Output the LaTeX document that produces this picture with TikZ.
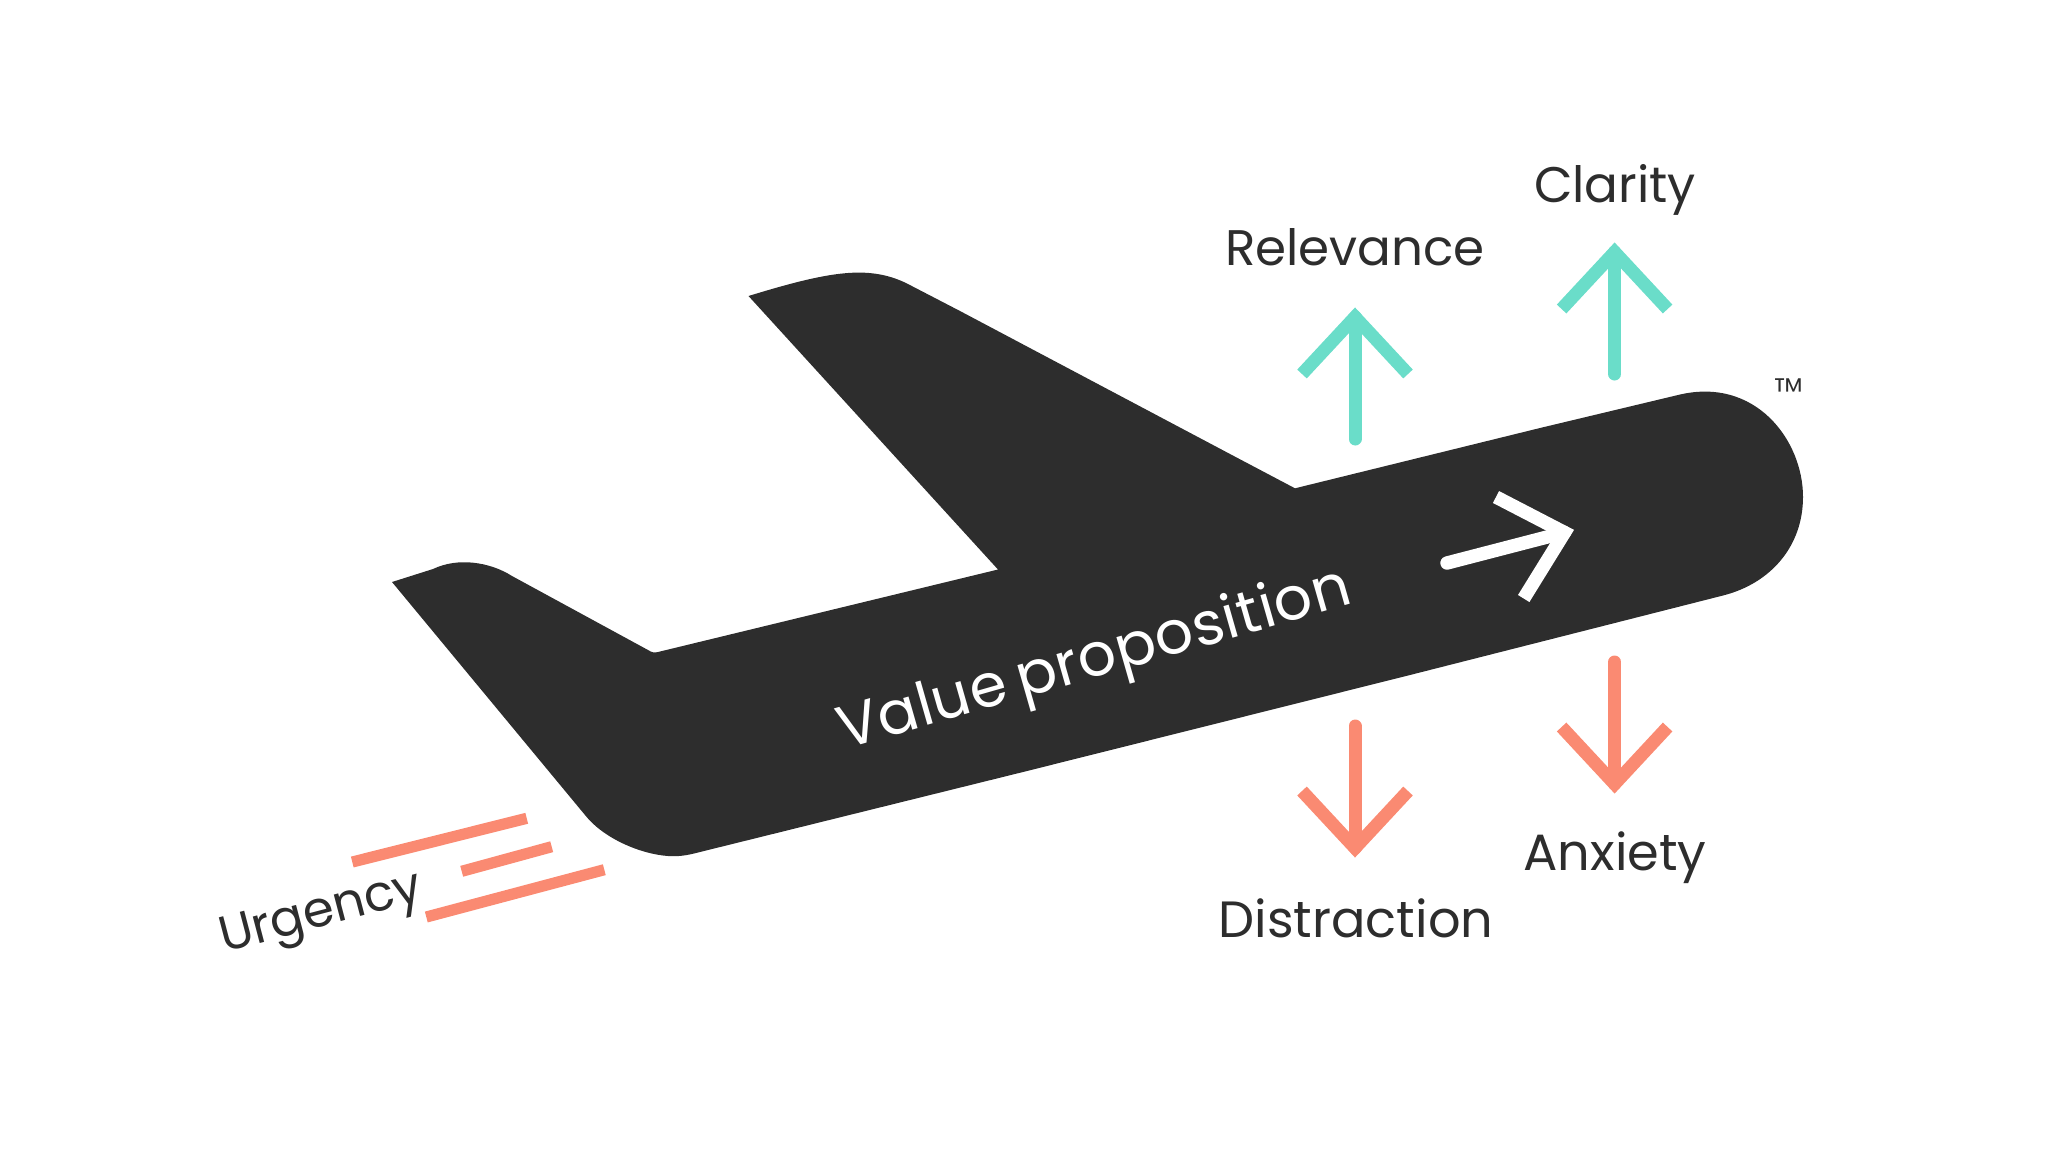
\documentclass[tikz,border=0pt]{standalone}
\usepackage{fontspec}
\setmainfont{Poppins}
\newfontfamily\valfont[WordSpace=0.7,LetterSpace=0.9]{Poppins}
\newfontfamily\tmfont{Poppins Light}
\definecolor{planedark}{HTML}{2D2D2D}
\definecolor{tealup}{HTML}{6ADDC9}
\definecolor{coral}{HTML}{FA8A72}
\tikzset{
  x=0.5pt,y=-0.5pt,
  lab/.style={inner sep=0pt,text=planedark,font=\fontsize{25}{30}\selectfont},
  labwide/.style={inner sep=0pt,text=planedark,font=\fontsize{25.5}{30}\selectfont},
  streak/.style={draw=coral,line width=5.6pt},
  shaftline/.style={line width=6.5pt,line cap=round},
  headline/.style={line width=6.5pt,line join=miter,miter limit=10},
  uparrow/.pic={
    \draw[tealup,shaftline] (0,0) -- (0,122);
    \draw[tealup,headline] (-53,57) -- (0,0) -- (53,57);
  },
  downarrow/.pic={
    \draw[coral,shaftline] (0,0) -- (0,-122);
    \draw[coral,headline] (-53,-57) -- (0,0) -- (53,-57);
  }
}
\begin{document}
\begin{tikzpicture}
\useasboundingbox (0,0) rectangle (2050,1152);
% aeroplane
\fill[planedark] (392,582)
  -- (433,569)
  .. controls (458,557) and (490,562) .. (512,576)
  -- (648,650)
  .. controls (652,652.5) and (654,653) .. (658,652)
  -- (998,569.5)
  -- (748.5,296)
  .. controls (830,271) and (868,265) .. (906,283)
  -- (960,311)
  -- (1230,454)
  -- (1295,488.3)
  -- (1540,428)
  -- (1678,395)
  .. controls (1755,376) and (1803,440) .. (1803,497)
  .. controls (1803,545) and (1772,583) .. (1723,595.5)
  -- (1410,675)
  -- (1025,771.5)
  -- (700,852)
  .. controls (685,856) and (678,856.5) .. (668,856)
  .. controls (640,854) and (603,838) .. (585,815)
  -- (392,582) -- cycle;
% streaks
\coordinate (s1a) at (352.3,862);   \coordinate (s1b) at (526.7,818.3);
\coordinate (s2a) at (461.7,871.3); \coordinate (s2b) at (551.7,846.7);
\coordinate (s3a) at (426.3,917);   \coordinate (s3b) at (604.3,869.7);
\draw[streak] (s1a) -- (s1b);
\draw[streak] (s2a) -- (s2b);
\draw[streak] (s3a) -- (s3b);
% arrows
\pic at (1355,317) {uparrow};
\pic at (1614.6,252) {uparrow};
\pic at (1355,848) {downarrow};
\pic at (1614.6,784) {downarrow};
% white arrow
\coordinate (wshaft) at (1447,563);
\coordinate (wtip) at (1564.5,532.5);
\coordinate (warm1) at (1496,497);
\coordinate (warm2) at (1523.7,598.5);
\draw[white,line width=6.7pt,line cap=round] (wshaft) -- (wtip);
\draw[white,line width=6.7pt,line join=miter,miter limit=10] (warm1) -- (wtip) -- (warm2);
% labels
\node[lab] (relevance) at (1355,247) {Relevance};
\node[lab] (clarity) at (1615,190) {Clarity};
\node[labwide] (distraction) at (1356,918) {Distraction};
\node[labwide] (anxiety) at (1615,858) {Anxiety};
\node[lab,rotate=14.7] (urgency) at (322,916) {Urgency};
\node[inner sep=0pt,text=white,rotate=16,font=\valfont\fontsize{30}{36}\selectfont] (value) at (1095,662) {Value proposition};
\node[inner sep=0pt,text=planedark,font=\tmfont\fontsize{19}{22}\selectfont] (tm) at (1789,392) {™};
\end{tikzpicture}
\end{document}
